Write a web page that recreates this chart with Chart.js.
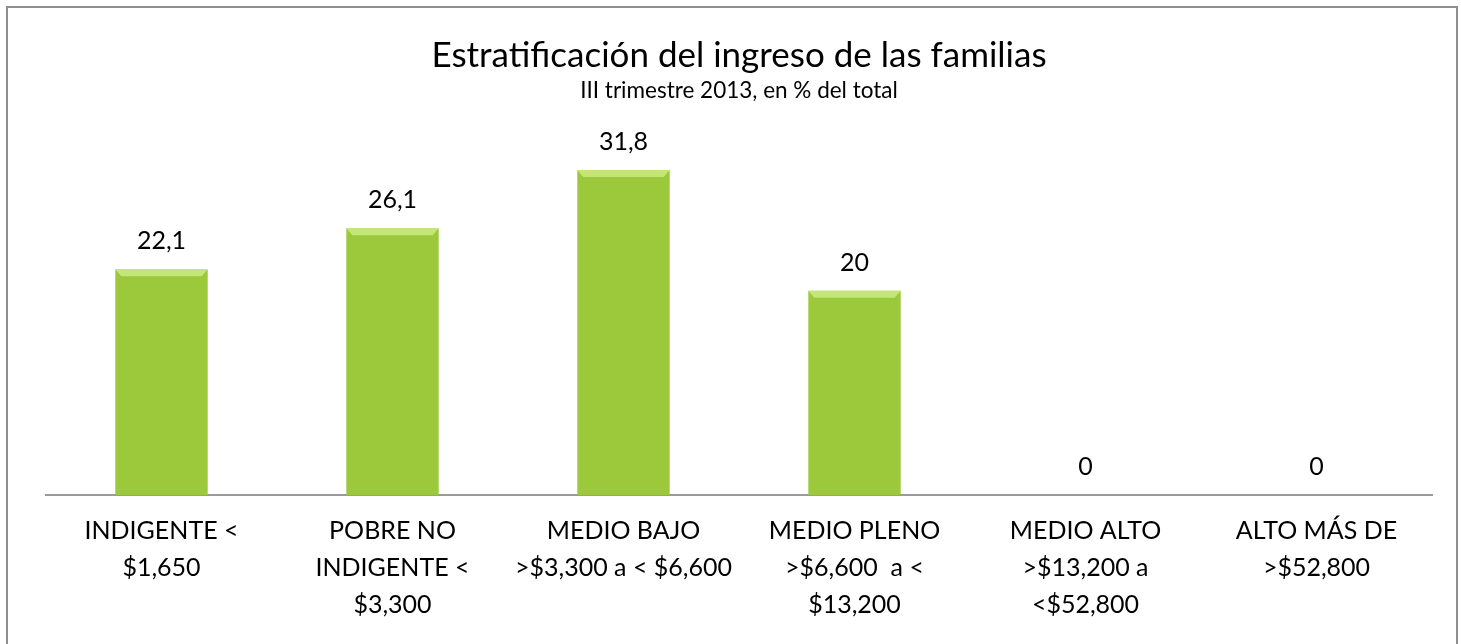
<!DOCTYPE html>
<html>
<head>
<meta charset="utf-8">
<script src="https://cdn.jsdelivr.net/npm/chart.js@4.4.1/dist/chart.umd.min.js"></script>
<style>
  html, body { margin:0; padding:0; background:#fff; overflow:hidden; }
  #frame { position:absolute; left:6px; top:6px; width:1452px; height:700px; border:2px solid #8e8e8e; box-sizing:border-box; }
  #wrap  { position:absolute; left:0; top:0; width:1461px; height:644px; }
</style>
</head>
<body>
<div id="frame"></div>
<div id="wrap"><canvas id="c" width="1461" height="644"></canvas></div>
<script>
// ─── Data ─────────────────────────────────────────────────────────────
const categories = [
  ['INDIGENTE <', '$1,650'],
  ['POBRE NO', 'INDIGENTE <', '$3,300'],
  ['MEDIO BAJO', '>$3,300 a < $6,600'],
  ['MEDIO PLENO', '>$6,600  a <', '$13,200'],
  ['MEDIO ALTO', '>$13,200 a', '<$52,800'],
  ['ALTO MÁS DE', '>$52,800'],
];
const values = [22.1, 26.1, 31.8, 20, 0, 0];
const valueLabels = ['22,1', '26,1', '31,8', '20', '0', '0'];

const FONT = "Lato, 'Open Sans', sans-serif";

// horizontal bevel-ish gradient for each bar
function barFill(ctx) {
  const el = ctx.element;
  const c = ctx.chart.ctx;
  if (!el || !el.width) return '#9cc83c';
  const x0 = el.x - el.width/2, x1 = el.x + el.width/2;
  const g = c.createLinearGradient(x0, 0, x1, 0);
  g.addColorStop(0,    '#7ea52a');
  g.addColorStop(0.08, '#97c43a');
  g.addColorStop(0.5,  '#a5d046');
  g.addColorStop(0.92, '#97c43a');
  g.addColorStop(1,    '#76a022');
  return g;
}

// value labels above bars
const valueLabelPlugin = {
  id: 'valueLabels',
  afterDatasetsDraw(chart) {
    const c = chart.ctx;
    const meta = chart.getDatasetMeta(0);
    c.save();
    c.font = '25px ' + FONT;
    c.fillStyle = '#000';
    c.textAlign = 'center';
    c.textBaseline = 'middle';
    meta.data.forEach((bar, i) => {
      c.fillText(valueLabels[i], bar.x, bar.y - 28);
    });
    c.restore();
  }
};

// light top edge on each bar
const bevelPlugin = {
  id: 'bevel',
  afterDatasetsDraw(chart) {
    const c = chart.ctx;
    const meta = chart.getDatasetMeta(0);
    c.save();
    meta.data.forEach(bar => {
      const h = bar.base - bar.y;
      if (h < 8) return;
      const x0 = bar.x - bar.width/2, x1 = bar.x + bar.width/2;
      c.fillStyle = 'rgba(210,240,140,0.75)';
      c.beginPath();
      c.moveTo(x0, bar.y);
      c.lineTo(x1, bar.y);
      c.lineTo(x1 - 6, bar.y + 7);
      c.lineTo(x0 + 6, bar.y + 7);
      c.closePath();
      c.fill();
    });
    c.restore();
  }
};

new Chart(document.getElementById('c'), {
  type: 'bar',
  data: {
    labels: categories,
    datasets: [{
      data: values,
      backgroundColor: barFill,
      borderWidth: 0,
      categoryPercentage: 1,
      barPercentage: 0.4,
    }]
  },
  options: {
    responsive: false,
    animation: false,
    layout: { padding: { left: 46, right: 29, top: 21, bottom: 4 } },
    plugins: {
      legend: { display: false },
      tooltip: { enabled: false },
      title: {
        display: true,
        text: 'Estratificación del ingreso de las familias',
        color: '#000',
        font: { family: FONT, size: 35, weight: 'normal' },
        padding: { top: 14, bottom: 0 }
      },
      subtitle: {
        display: true,
        text: 'III trimestre 2013, en % del total',
        color: '#000',
        font: { family: FONT, size: 22.5, weight: 'normal' },
        padding: { top: 0, bottom: 13 }
      }
    },
    scales: {
      x: {
        grid: { display: false, drawTicks: false },
        border: { display: true, color: '#9a9a9a', width: 2 },
        ticks: {
          color: '#000',
          font: { family: FONT, size: 25, lineHeight: 1.48 },
          padding: 17,
          maxRotation: 0,
          autoSkip: false
        }
      },
      y: {
        display: false,
        min: 0,
        max: 37
      }
    }
  },
  plugins: [bevelPlugin, valueLabelPlugin]
});
</script>
</body>
</html>
